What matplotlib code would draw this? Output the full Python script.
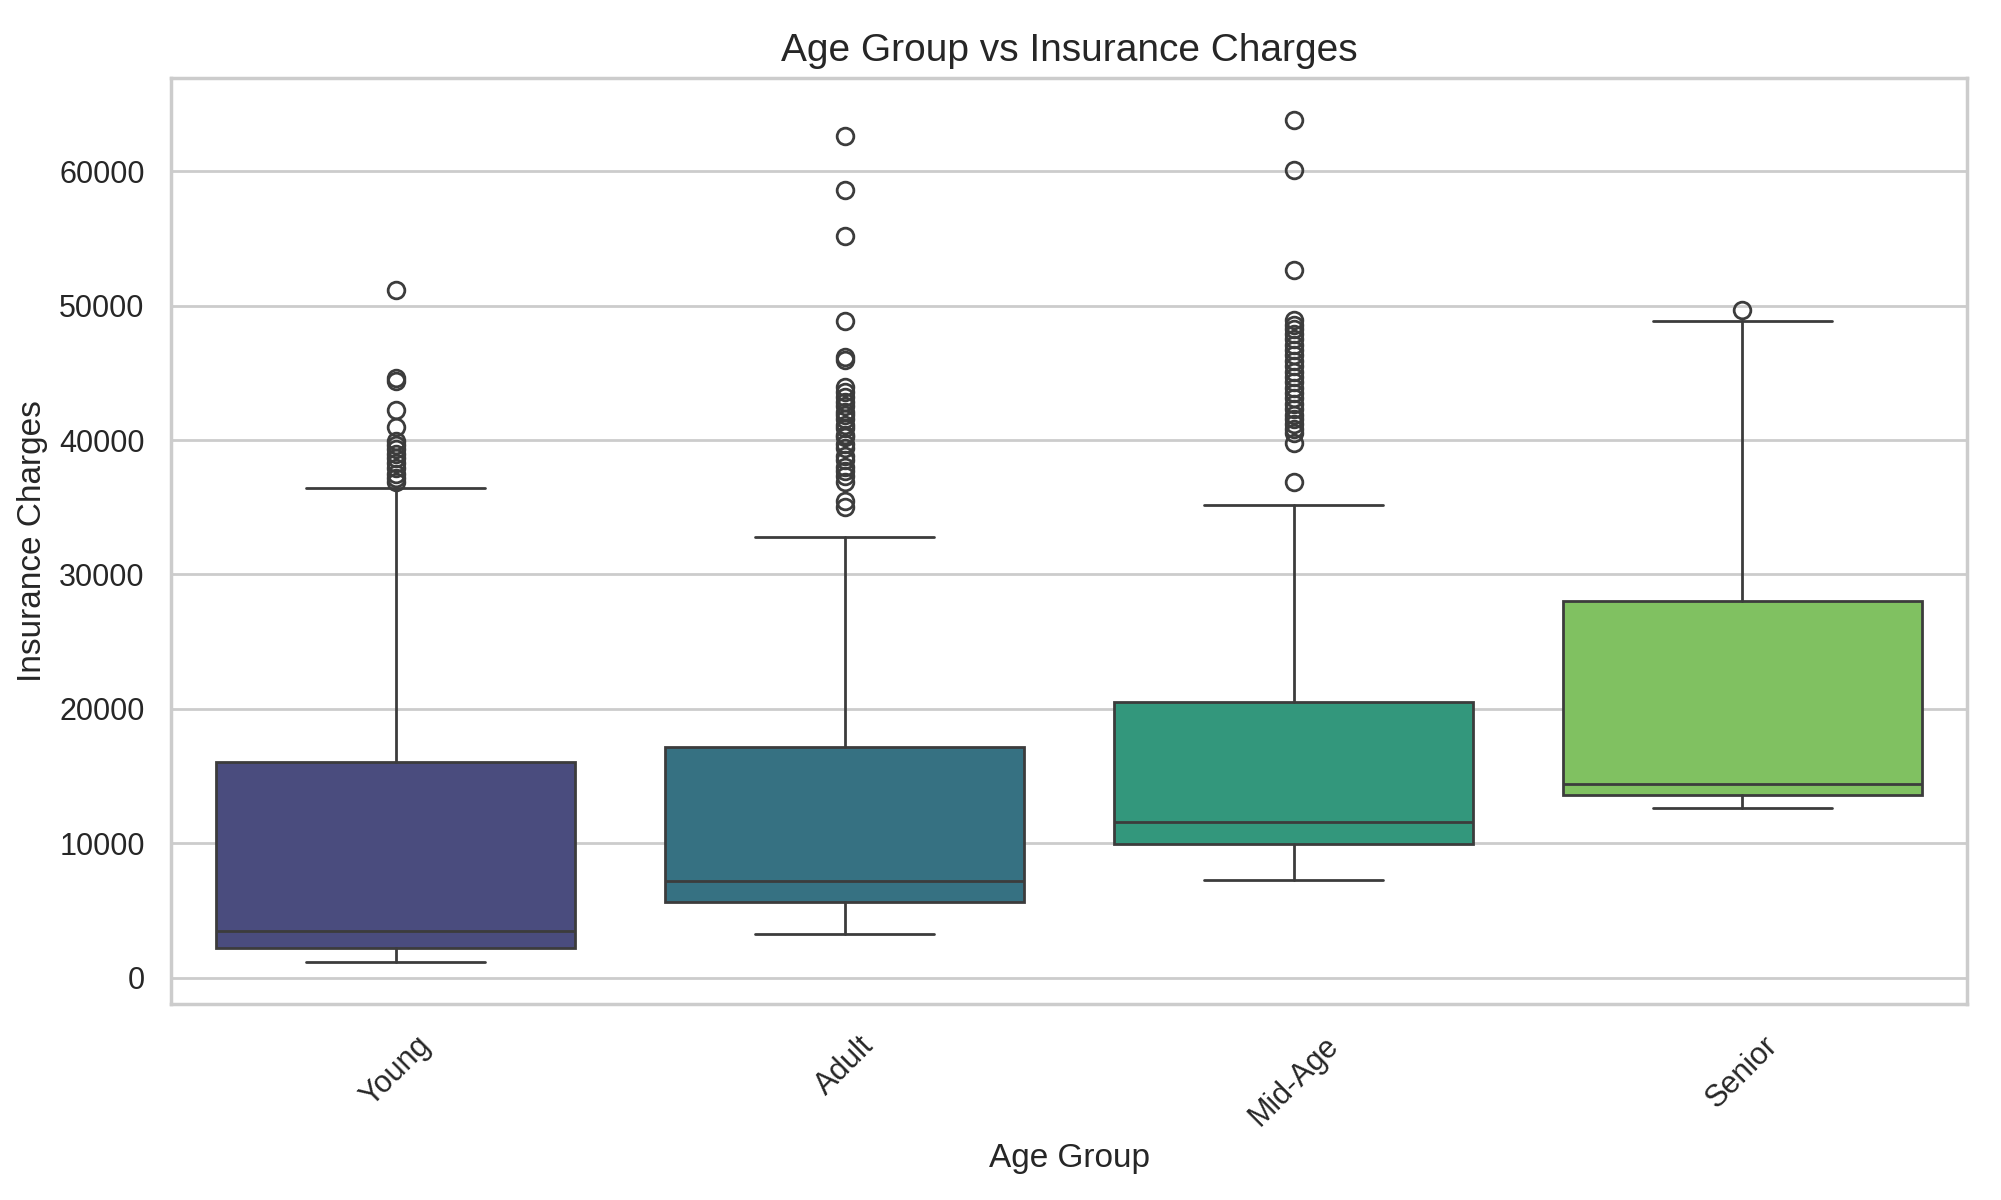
import matplotlib
matplotlib.use('Agg')
import matplotlib.pyplot as plt
import seaborn as sns

# Box statistics
age_groups = ['Young', 'Adult', 'Mid-Age', 'Senior']
q1 = [2240, 5610, 9950, 13560]
medians = [3500, 7180, 11550, 14430]
q3 = [16020, 17160, 20510, 27990]
whisker_low = [1140, 3260, 7250, 12650]
whisker_high = [36460, 32760, 35150, 48880]

outliers_young = [51190, 44630, 44400, 42250, 41000, 39900, 39600, 39300, 39000,
                  38700, 38300, 37900, 37500, 37200, 36900]
outliers_adult = [62610, 58640, 55160, 48880, 46200, 45950, 43950, 43600, 43200,
                  42800, 42500, 42100, 41900, 41600, 41100, 40900, 40400, 40200,
                  39700, 39400, 38800, 38500, 38000, 37700, 37300, 36900, 35500,
                  35000]
outliers_mid = [63810, 60100, 52630, 48900, 48600, 48300, 47900, 47500, 47100,
                46700, 46300, 45900, 45500, 45100, 44700, 44300, 43900, 43500,
                43100, 42700, 42300, 41900, 41600, 41200, 40800, 40500, 39800,
                36910]
outliers_senior = [49700]

sns.set_theme(style='whitegrid')
plt.rcParams['font.family'] = ['Liberation Sans', 'DejaVu Sans']

colors = sns.color_palette('viridis', len(age_groups), desat=0.75)
line_color = (0.235, 0.235, 0.235)

all_outliers = [outliers_young, outliers_adult, outliers_mid, outliers_senior]
stats = []
for i, name in enumerate(age_groups):
    stats.append({
        'label': name,
        'q1': q1[i],
        'med': medians[i],
        'q3': q3[i],
        'whislo': whisker_low[i],
        'whishi': whisker_high[i],
        'fliers': all_outliers[i],
    })

fig, ax = plt.subplots(figsize=(10.005, 6), dpi=200)

bp = ax.bxp(
    stats,
    positions=range(len(age_groups)),
    widths=0.8,
    capwidths=0.4,
    patch_artist=True,
    showfliers=True,
    boxprops=dict(edgecolor=line_color, linewidth=1.0),
    medianprops=dict(color=line_color, linewidth=1.0),
    whiskerprops=dict(color=line_color, linewidth=1.0),
    capprops=dict(color=line_color, linewidth=1.0),
    flierprops=dict(marker='o', markerfacecolor='none', markeredgecolor=line_color,
                    markersize=6, markeredgewidth=1.0),
)
for patch, c in zip(bp['boxes'], colors):
    patch.set_facecolor(c)

ax.set_xlim(-0.5, len(age_groups) - 0.5)
ax.set_xticks(range(len(age_groups)))
ax.set_xticklabels(age_groups, rotation=45, fontsize=11)
ax.tick_params(axis='y', labelsize=11)
ax.xaxis.grid(False)
ax.set_axisbelow(True)

ax.set_title('Age Group vs Insurance Charges', fontsize=14)
ax.set_xlabel('Age Group', fontsize=12)
ax.set_ylabel('Insurance Charges', fontsize=12)

fig.subplots_adjust(left=0.0855, right=0.983, top=0.935, bottom=0.163)
fig.savefig('out.png', dpi=200)
plt.close(fig)
